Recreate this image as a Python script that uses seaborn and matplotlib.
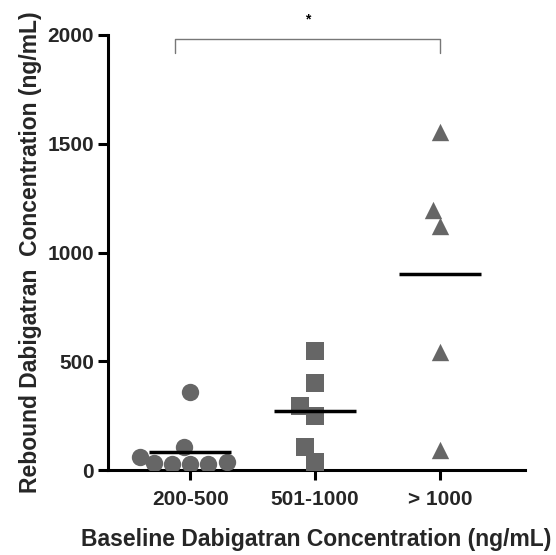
import matplotlib
matplotlib.use("Agg")
import matplotlib.pyplot as plt
import seaborn as sns
import pandas as pd

# values
groups = ["200-500", "501-1000", "> 1000"]
rebound_200_500 = [360, 105, 60, 30, 30, 32, 35, 30]
rebound_501_1000 = [548, 399, 294, 248, 104, 38]
rebound_over_1000 = [1555, 1195, 1122, 544, 92]
markers = ["o", "s", "^"]

df = pd.DataFrame({
    "group": [groups[0]] * len(rebound_200_500) + [groups[1]] * len(rebound_501_1000)
             + [groups[2]] * len(rebound_over_1000),
    "rebound": rebound_200_500 + rebound_501_1000 + rebound_over_1000,
})

sns.set_style("ticks")
plt.rcParams['font.family'] = ['Liberation Sans', 'DejaVu Sans']
plt.rcParams['font.weight'] = 'bold'

fig = plt.figure(figsize=(5.56, 5.55), dpi=100)
ax = fig.add_axes([0.194, 0.153, 0.750, 0.784])

grey = "#666666"
for g, m in zip(groups, markers):
    sns.swarmplot(data=df[df["group"] == g], x="group", y="rebound", order=groups,
                  marker=m, color=grey, size=12.5, linewidth=0, ax=ax)

# mean lines
means = df.groupby("group")["rebound"].mean()
for i, g in enumerate(groups):
    ax.hlines(means[g], i - 0.33, i + 0.33, color="black", lw=2.5, zorder=5)

ax.set_ylim(0, 2000)
ax.set_xlim(-0.66, 2.68)
ax.set_yticks([0, 500, 1000, 1500, 2000])
ax.set_xlabel("Baseline Dabigatran Concentration (ng/mL)", fontsize=16.5,
              fontweight="bold", labelpad=14)
ax.set_ylabel("Rebound Dabigatran  Concentration (ng/mL)", fontsize=16.5,
              fontweight="bold", labelpad=4)
ax.tick_params(axis="both", labelsize=15, width=2.2, length=7, color="black")
ax.tick_params(axis="x", pad=7)
ax.tick_params(axis="y", pad=3)
for lab in ax.get_xticklabels() + ax.get_yticklabels():
    lab.set_fontweight("bold")
for s in ["left", "bottom"]:
    ax.spines[s].set_linewidth(2.2)
    ax.spines[s].set_color("black")
sns.despine(ax=ax)

# significance bracket
ax.plot([0 - 0.12, 0 - 0.12, 2, 2], [1915, 1980, 1980, 1915], color="#777777",
        lw=1, clip_on=False)
ax.text(0.94, 2040, "*", ha="center", va="bottom", fontsize=10, color="black",
        clip_on=False)

fig.savefig("out.png", dpi=100)
